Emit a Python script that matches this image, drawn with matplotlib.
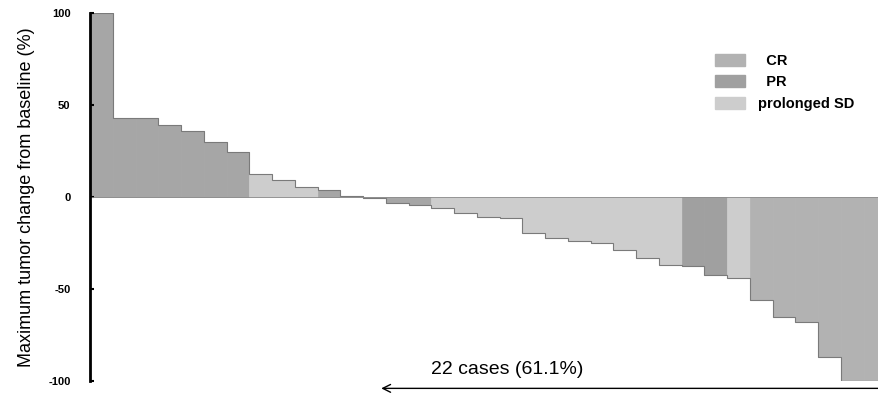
import matplotlib.pyplot as plt
import numpy as np

plt.rcParams['font.family'] = ['Liberation Sans', 'DejaVu Sans']

# max tumour change per patient (%), sorted (waterfall)
change = [100, 43, 43, 39, 36, 30, 24.5, 12.5, 9, 5.5,
          3.8, 0.5, -0.4, -3, -4.5, -6, -8.7, -11, -11.5, -19.7,
          -22.5, -24, -25, -29, -33, -37, -37.5, -42.5, -44, -56,
          -65, -68, -87, -100, -100]
resp = ['PD'] * 7 + ['SD'] * 3 + ['PD'] * 5 + ['SD'] * 11 + \
       ['PR', 'PR', 'SD'] + ['CR'] * 6
yticks = [100, 50, 0, -50, -100]

colors = {'PD': '#a6a6a6', 'SD': '#cdcdcd', 'PR': '#a0a0a0', 'CR': '#b2b2b2'}

fig = plt.figure(figsize=(8.79, 3.99), dpi=100)
ax = fig.add_axes([0.1024, 0.0451, 0.8976, 0.9223])

x = np.arange(len(change))
c = [colors[r] for r in resp]
ax.bar(x, change, width=1, align='edge', color=c, edgecolor=c, linewidth=0.5)
# outline of the waterfall
ax.stairs(change, np.arange(len(change) + 1), color='#7a7a7a', lw=0.8)
ax.axhline(0, color='#8a8a8a', lw=0.6, xmax=len(change) / 34.68)

ax.set_xlim(0, 34.68)
ax.set_ylim(-100, 100)
for s in ['top', 'right', 'bottom']:
    ax.spines[s].set_visible(False)
ax.spines['left'].set_linewidth(2)
ax.spines['left'].set_zorder(5)
ax.set_xticks([])
ax.set_yticks(yticks)
ax.set_yticklabels([str(t) for t in yticks], fontsize=8, fontweight='bold')
ax.tick_params(axis='y', direction='in', length=3, width=1.5, pad=14)
ax.set_ylabel('Maximum tumor change from baseline (%)', fontsize=13)
ax.yaxis.set_label_coords(-0.07, 0.5)

# legend
h = [plt.Rectangle((0, 0), 1, 1, color=colors[k]) for k in ['CR', 'PR', 'SD']]
ax.legend(h, ['  CR', '  PR', 'prolonged SD'], loc='upper left',
          bbox_to_anchor=(715 / 879, 1 - 54 / 399), bbox_transform=fig.transFigure,
          frameon=False, borderpad=0, borderaxespad=0, handlelength=2.05,
          handleheight=0.9, handletextpad=0.9, labelspacing=0.5,
          prop={'size': 10.5, 'weight': 'bold'})

# 22 cases arrow
ax.annotate('', xy=(12.8, -104), xytext=(34.68, -104), annotation_clip=False,
            arrowprops=dict(arrowstyle='->', lw=1, color='black',
                            shrinkA=0, shrinkB=0, mutation_scale=14))
ax.text(15, -94, '22 cases (61.1%)', fontsize=14, ha='left', va='center')

plt.savefig('out.png', dpi=100)
